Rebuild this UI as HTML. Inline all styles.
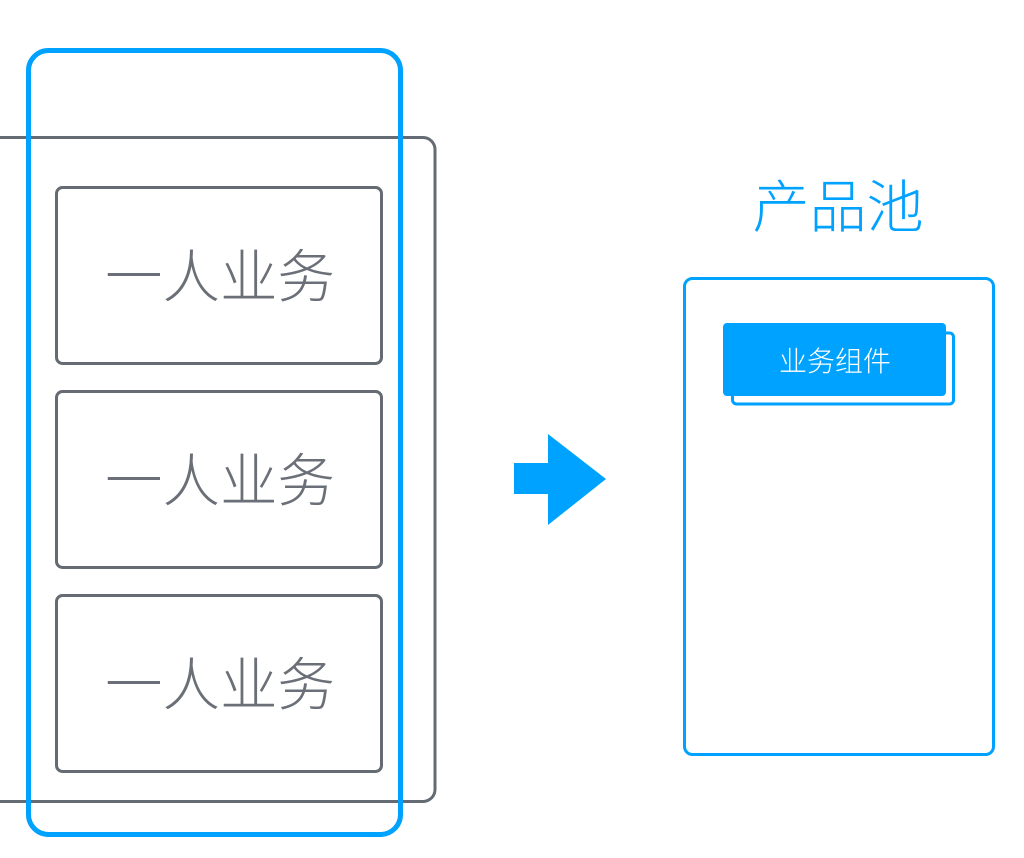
<!DOCTYPE html>
<html><head><meta charset="utf-8"><style>
html,body{margin:0;padding:0;background:#fff;width:1024px;height:858px;overflow:hidden}
svg{display:block}
text{font-family:"Liberation Sans","Noto Sans CJK SC",sans-serif;font-weight:300}
</style></head><body>
<svg width="1024" height="858" viewBox="0 0 1024 858">
<rect x="-20" y="137.5" width="455" height="664" rx="12" fill="none" stroke="#646b73" stroke-width="3"/>
<rect x="28.5" y="50.5" width="372" height="784" rx="20" fill="none" stroke="#00a2ff" stroke-width="5"/>
<g fill="none" stroke="#646b73" stroke-width="3">
<rect x="56.5" y="187.5" width="325" height="176" rx="6"/>
<rect x="56.5" y="391.5" width="325" height="176" rx="6"/>
<rect x="56.5" y="595.5" width="325" height="176" rx="6"/>
</g>
<g fill="#6b7078" font-size="57.5" text-anchor="middle">
<text x="220" y="297">一人业务</text>
<text x="220" y="501">一人业务</text>
<text x="220" y="705">一人业务</text>
</g>
<polygon points="514,463 548,463 548,434 606,479 548,525 548,494 514,494" fill="#00a2ff"/>
<text x="838" y="227" fill="#00a2ff" font-size="57" text-anchor="middle">产品池</text>
<rect x="684.5" y="278.5" width="309" height="476" rx="8" fill="none" stroke="#00a2ff" stroke-width="3"/>
<rect x="732.5" y="333" width="221" height="71" rx="4" fill="none" stroke="#00a2ff" stroke-width="3"/>
<rect x="723" y="323" width="223" height="73" rx="4" fill="#00a2ff"/>
<text x="835" y="371" fill="#fff" font-size="28" text-anchor="middle">业务组件</text>
</svg>
</body></html>
